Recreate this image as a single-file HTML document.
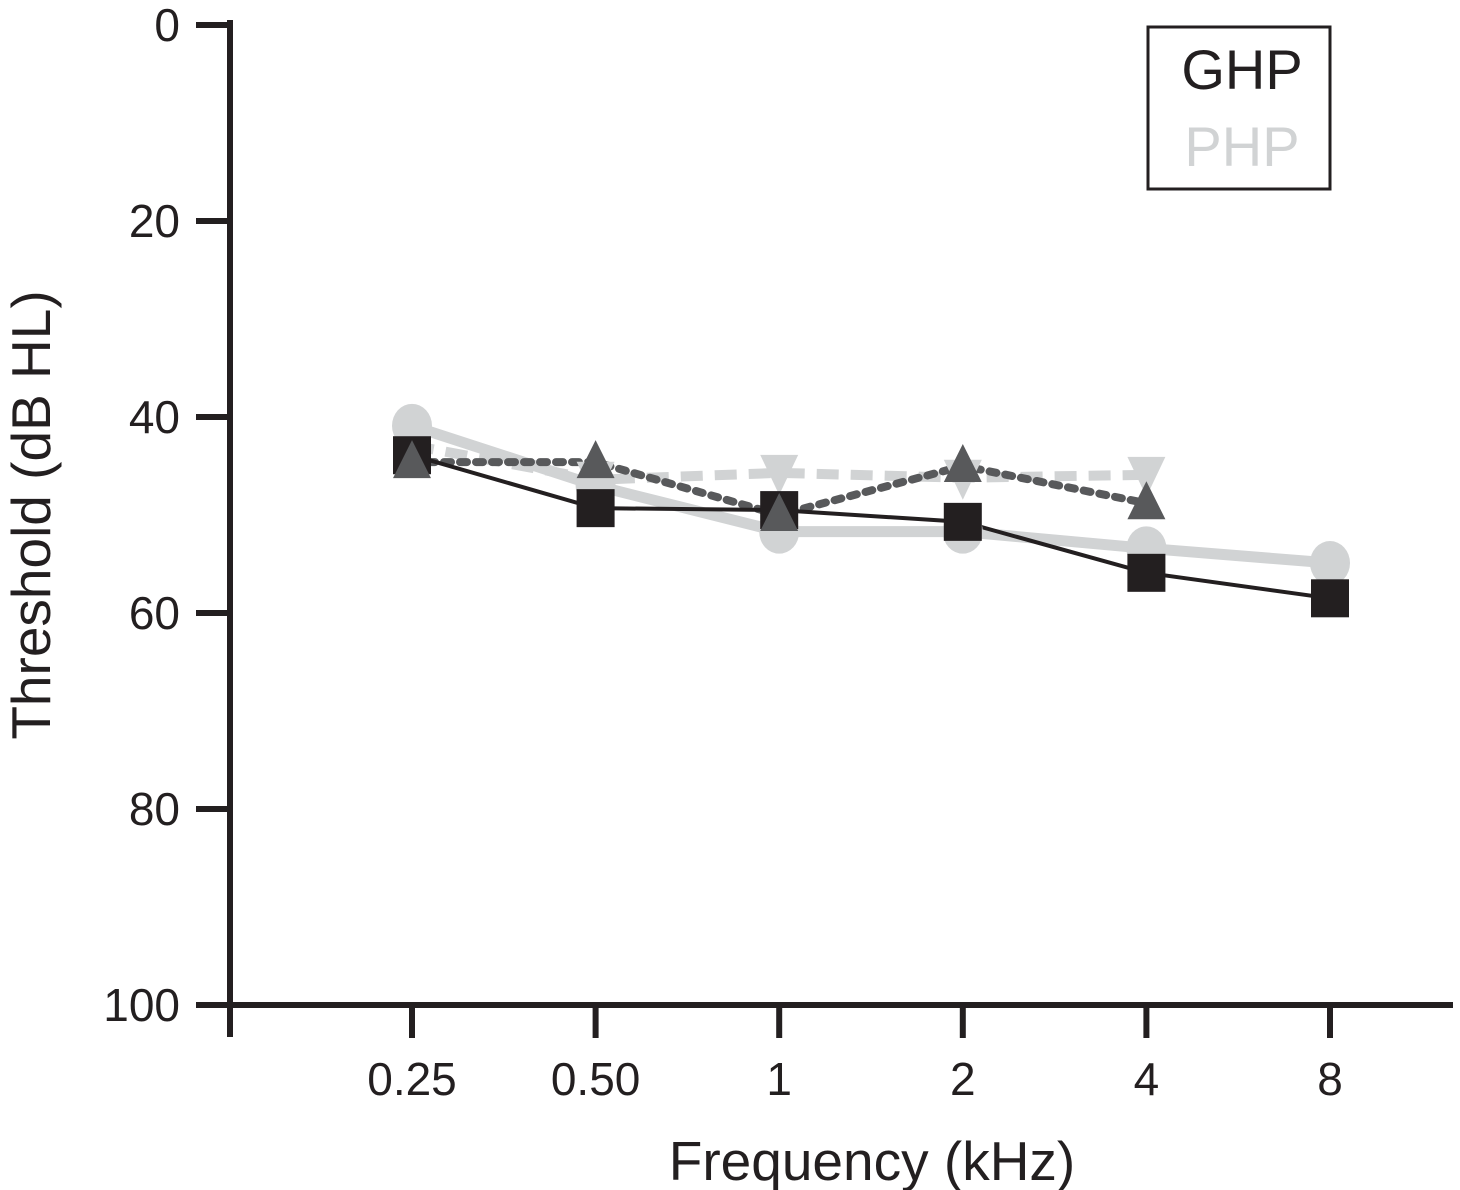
<!DOCTYPE html>
<html><head><meta charset="utf-8"><style>
html,body{margin:0;padding:0;background:#fff;}
svg{display:block;font-family:"Liberation Sans",sans-serif;}
</style></head><body>
<svg id="chart" width="1460" height="1190" viewBox="0 0 1460 1190"></svg>
<script>
const categories = ["0.25","0.50","1","2","4","8"];
const yTicks = [0,20,40,60,80,100];
const ghpSquare = [43.9,49.3,49.5,50.7,55.9,58.5];
const phpCircle = [40.9,47.0,51.7,51.7,53.4,54.9];
const ghpTriangleUp = [44.6,44.6,50.0,45.0,48.8];
const phpTriangleDown = [42.9,46.4,45.7,46.2,45.9];

const svg = document.getElementById('chart');
const NS = 'http://www.w3.org/2000/svg';
function xPos(i){ return 412 + i*183.6; }
function yPos(v){ return 25 + v*9.8; }
function mk(tag, attrs, parent){
  const e = document.createElementNS(NS, tag);
  for (const k in attrs) e.setAttribute(k, attrs[k]);
  (parent||svg).appendChild(e);
  return e;
}
let e = mk('line',{x1:230,y1:20,x2:230,y2:1037,stroke:'#231f20','stroke-width':6});


e = mk('line',{x1:227,y1:1005,x2:1453,y2:1005,stroke:'#231f20','stroke-width':6});


yTicks.forEach(t=>{
  const y = yPos(t);
  const l = mk('line',{x1:196,y1:y,x2:230,y2:y,stroke:'#231f20','stroke-width':6});
  
  
  const tx = mk('text',{x:180,y:y+16,'text-anchor':'end','font-size':46,fill:'#231f20'});
  tx.textContent = t;
  
  
});
categories.forEach((c,i)=>{
  const x = xPos(i);
  const l = mk('line',{x1:x,y1:1005,x2:x,y2:1038,stroke:'#231f20','stroke-width':6});
  
  
  const tx = mk('text',{x:x,y:1095,'text-anchor':'middle','font-size':46,fill:'#231f20'});
  tx.textContent = c;
  
  
});
e = mk('text',{x:872,y:1180,'text-anchor':'middle','font-size':55,fill:'#231f20'});
e.textContent='Frequency (kHz)';


e = mk('text',{x:0,y:0,'text-anchor':'middle','font-size':55,fill:'#231f20',transform:'translate(50,515) rotate(-90)'});
e.textContent='Threshold (dB HL)';



function pts(arr){ return arr.map((v,i)=>xPos(i)+','+yPos(v)).join(' '); }
e = mk('polyline',{points:pts(phpCircle),fill:'none',stroke:'#d1d3d4','stroke-width':11});


e = mk('polyline',{points:pts(phpTriangleDown),fill:'none',stroke:'#d1d3d4','stroke-width':10,'stroke-dasharray':'22 12'});


e = mk('polyline',{points:pts(ghpTriangleUp),fill:'none',stroke:'#58595b','stroke-width':8,'stroke-dasharray':'7 9','stroke-linecap':'round'});


e = mk('polyline',{points:pts(ghpSquare),fill:'none',stroke:'#231f20','stroke-width':4});


phpCircle.forEach((v,i)=>{
  const m = mk('ellipse',{cx:xPos(i),cy:yPos(v),rx:20,ry:22,fill:'#d1d3d4'});
  
  
});
phpTriangleDown.forEach((v,i)=>{
  const x=xPos(i), y=yPos(v);
  const m = mk('polygon',{points:`${x-19},${y-18} ${x+19},${y-18} ${x},${y+22}`,fill:'#d1d3d4'});
  
  
});
ghpSquare.forEach((v,i)=>{
  const m = mk('rect',{x:xPos(i)-19,y:yPos(v)-19,width:38,height:38,fill:'#231f20'});
  
  
});
ghpTriangleUp.forEach((v,i)=>{
  const x=xPos(i), y=yPos(v);
  const m = mk('polygon',{points:`${x},${y-22} ${x+19},${y+16} ${x-19},${y+16}`,fill:'#58595b'});
  
  
});
const g = mk('g',{});


mk('rect',{x:1148,y:27,width:182,height:162,fill:'#fff',stroke:'#231f20','stroke-width':3},g);
e = mk('text',{x:1242,y:89,'text-anchor':'middle','font-size':56,fill:'#231f20'},g);
e.textContent='GHP';


e = mk('text',{x:1242,y:166,'text-anchor':'middle','font-size':56,fill:'#d1d3d4'},g);
e.textContent='PHP';


</script>
</body></html>
